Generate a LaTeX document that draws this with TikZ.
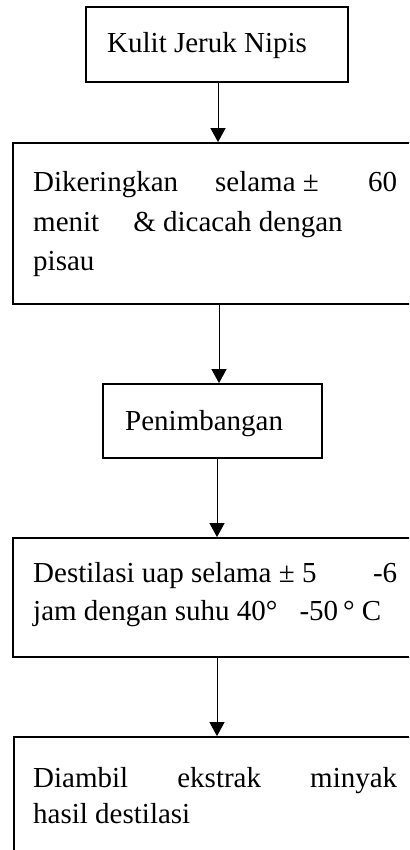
\documentclass[tikz,border=0pt]{standalone}
\usepackage{fontspec}
\setmainfont{Liberation Serif}
\usetikzlibrary{arrows.meta}
\begin{document}
\begin{tikzpicture}[x=1pt,y=-1pt,
  box/.style={draw,line width=1.8pt,inner sep=0pt,rectangle},
  txt/.style={anchor=base west,inner sep=0pt,font=\fontsize{29}{38}\selectfont},
  arr/.style={line width=1pt,-{Triangle[width=15pt,length=14pt]}}]
\clip (0,0) rectangle (409,850);
% boxes
\node[box,minimum width=262pt,minimum height=75pt] (b1) at (217,44.5) {};
\node[box,minimum width=407pt,minimum height=161pt] (b2) at (216.5,223.5) {};
\node[box,minimum width=219pt,minimum height=74pt] (b3) at (212.5,421) {};
\node[box,minimum width=407pt,minimum height=119pt] (b4) at (216.5,597.5) {};
\node[box,minimum width=406pt,minimum height=133pt] (b5) at (217,803.5) {};
% texts
\node[txt] (t1) at (107,53) {Kulit Jeruk Nipis};
\node[txt] (t2a) at (33,192) {\hbox to 364pt{Dikeringkan\hspace{37pt}selama ±\hfill 60}};
\node[txt] (t2b) at (33,232) {menit\hspace{34pt}\& dicacah dengan};
\node[txt] (t2c) at (33,270) {pisau};
\node[txt] (t3) at (125,430) {Penimbangan};
\node[txt] (t4a) at (33,582) {\hbox to 364pt{Destilasi uap selama ± 5\hfill -6}};
\node[txt] (t4b) at (33,620) {jam dengan suhu 40°\hspace{22pt}-50\,° C};
\node[txt] (t5a) at (33,787) {\hbox to 364pt{Diambil\hfill ekstrak\hfill minyak}};
\node[txt] (t5b) at (33,823) {hasil destilasi};
% arrows
\draw[arr] (b1.south -| 218,0) -- (b2.north -| 218,0);
\draw[arr] (b2.south -| 219,0) -- (b3.north -| 219,0);
\draw[arr] (b3.south -| 217,0) -- (b4.north -| 217,0);
\draw[arr] (b4.south -| 217,0) -- (b5.north -| 217,0);
\end{tikzpicture}
\end{document}
